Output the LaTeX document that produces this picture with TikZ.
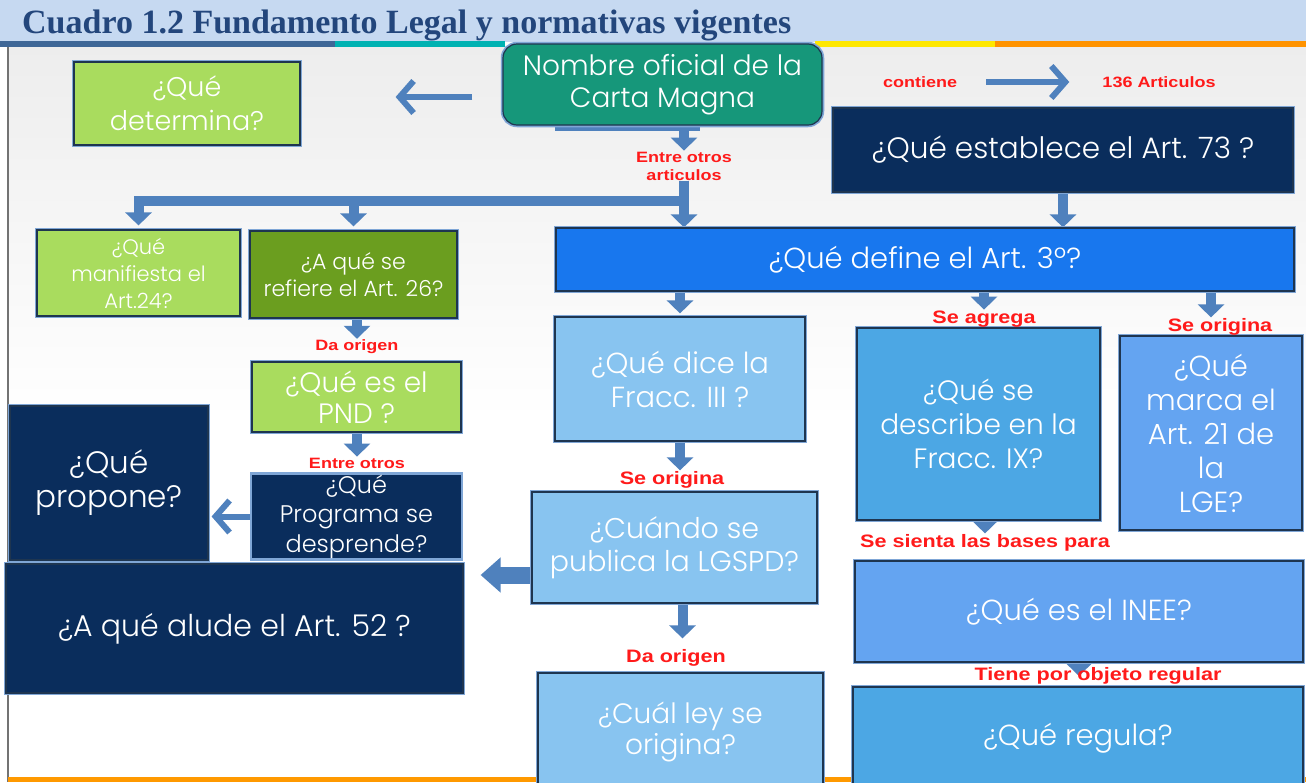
\documentclass[tikz,border=0pt]{standalone}
\usepackage{fontspec}
\usetikzlibrary{arrows.meta,calc}
\newfontfamily\boxfont{Poppins}[UprightFont={* Light}]
\newfontfamily\labfont{Liberation Sans}[FakeStretch=1.2]
\newfontfamily\titlefont{Liberation Serif}
\definecolor{lgreen}{HTML}{A9DC5E}
\definecolor{olive}{HTML}{6B9E1F}
\definecolor{teal2}{HTML}{16977A}
\definecolor{navy}{HTML}{0A2D5C}
\definecolor{brblue}{HTML}{1877EE}
\definecolor{lblue}{HTML}{88C4F0}
\definecolor{mblue}{HTML}{4CA7E4}
\definecolor{pblue}{HTML}{64A4F1}
\definecolor{arrowblue}{HTML}{4F81BD}
\definecolor{hdr}{HTML}{C6D9F1}
\definecolor{ttl}{HTML}{23467C}
\definecolor{boxline}{HTML}{1E3550}
\definecolor{frame}{HTML}{7FA6D6}
\definecolor{lab}{HTML}{FF1A1A}
\pgfdeclarelayer{bg}
\pgfdeclarelayer{arr}
\pgfsetlayers{bg,arr,main}
\newcommand{\fs}[2]{\boxfont\fontsize{#1}{#2}\selectfont}
\begin{document}
\begin{tikzpicture}[x=1pt,y={(0pt,-1pt)},
  box/.style={draw=boxline, line width=1.2pt, text=white, align=center, inner sep=0pt,
    font=\fs{28}{34}, preaction={draw=frame, line width=4.5pt}},
  lbl/.style={text=lab, font=\labfont\bfseries\fontsize{18}{19}\selectfont, inner sep=1pt, align=center},
  slbl/.style={lbl, font=\labfont\bfseries\fontsize{15}{18}\selectfont},
  barrow/.style={draw=arrowblue, line width=10pt, -{Triangle[width=26pt,length=13pt]}},
  bigarrow/.style={draw=arrowblue, line width=17pt, -{Triangle[width=34pt,length=20pt]}},
  chev/.style={draw=arrowblue, line width=6pt, -{Straight Barb[length=14pt,width=32pt]}}]
\path[use as bounding box] (0,0) rectangle (1306,782);
\begin{pgfonlayer}{bg}
  \fill[white] (0,0) rectangle (1306,782);
  \shade[top color=black!7, bottom color=white] (8,47) rectangle (1306,420);
  \fill[hdr] (0,0) rectangle (1306,42);
  \fill[arrowblue!80!black] (0,41) rectangle (335,47);
  \fill[teal!60!cyan] (335,41) rectangle (505,47);
  \fill[yellow!90!orange] (815,41) rectangle (995,47);
  \fill[orange!85!yellow] (995,41) rectangle (1306,47);
  \draw[black!55, line width=1.5pt] (8,47) -- (8,782);
  \fill[orange!80!yellow] (8,777) rectangle (1306,782);
  \fill[arrowblue] (555,118) rectangle (700,131);
\end{pgfonlayer}

\node[anchor=base west, text=ttl, font=\titlefont\bfseries\fontsize{34}{38}\selectfont, inner sep=0pt] (title) at (22,33) {Cuadro 1.2 Fundamento Legal y normativas vigentes};

\node[box, fill=lgreen, minimum width=226pt, minimum height=83pt, font=\fs{27}{34}] (det) at (187,103.5) {¿Qué\\determina?};
\node[box, fill=teal2, preaction={draw=none}, rounded corners=14pt, minimum width=319pt, minimum height=81pt, font=\fs{28}{32}] (nom) at (662.5,84.5) {Nombre oficial de la\\Carta Magna};
\node[box, fill=navy, minimum width=460pt, minimum height=84pt, font=\fs{29.5}{34}] (a73) at (1063,150) {¿Qué establece el Art. 73 ?};
\node[box, fill=lgreen, minimum width=203pt, minimum height=86pt, font=\fs{21}{27}] (a24) at (138.5,273) {¿Qué\\manifiesta el\\Art.24?};
\node[box, fill=olive, preaction={draw=none}, minimum width=207pt, minimum height=87pt, font=\fs{22}{27}] (a26) at (353.5,274.5) {¿A qué se\\refiere el Art. 26?};
\node[box, fill=lgreen, minimum width=209pt, minimum height=70pt, font=\fs{28}{31}] (pnd) at (356.5,397) {¿Qué es el\\PND ?};
\node[box, fill=navy, preaction={draw=none}, draw=none, minimum width=209pt, minimum height=77pt, font=\fs{24}{29.5}] (prog) at (356.5,516.5) {¿Qué\\Programa se\\desprende?};
\node[box, fill=navy, preaction={draw=none}, minimum width=198pt, minimum height=154pt, font=\fs{31}{34}] (prop) at (109,483) {¿Qué\\propone?};
\node[box, fill=navy, preaction={draw=none}, minimum width=457pt, minimum height=129pt, font=\fs{30}{34}] (a52) at (234.5,628.5) {¿A qué alude el Art. 52 ?};
\node[box, fill=brblue, preaction={draw=none}, minimum width=738pt, minimum height=63pt, font=\fs{29}{34}] (a3) at (925,259.5) {¿Qué define el Art. 3º?};
\node[box, fill=lblue, minimum width=250pt, minimum height=124pt, font=\fs{29}{34}] (f3) at (680,379) {¿Qué dice la\\Fracc. III ?};
\node[box, fill=mblue, minimum width=243pt, minimum height=192pt] (f9) at (978.5,424) {¿Qué se\\describe en la\\Fracc. IX?};
\node[box, fill=pblue, minimum width=182pt, minimum height=194pt, font=\fs{29}{34}] (a21) at (1211,433) {¿Qué\\marca el\\Art. 21 de\\la\\LGE?};
\node[box, fill=lblue, minimum width=285pt, minimum height=111pt, font=\fs{28.5}{33}] (cuan) at (674.5,547.5) {¿Cuándo se\\publica la LGSPD?};
\node[box, fill=lblue, minimum width=285pt, minimum height=117pt, font=\fs{28}{31}] (cual) at (680.5,731.5) {¿Cuál ley se\\origina?};
\node[box, fill=pblue, minimum width=448pt, minimum height=101pt, font=\fs{29}{34}] (inee) at (1079,611.5) {¿Qué es el INEE?};
\node[box, fill=mblue, minimum width=450pt, minimum height=103pt, font=\fs{29}{34}] (reg) at (1078,738.5) {¿Qué regula?};

\node[slbl] (cont) at (920,82) {contiene};
\node[slbl] (art136) at (1159,82) {136 Articulos};
\node[slbl] (eo1) at (684,166) {Entre otros\\articulos};
\node[slbl] (da1) at (357,347) {Da origen};
\node[slbl] (eo2) at (357,463) {Entre otros};
\node[lbl] (sagr) at (984,319) {Se agrega};
\node[lbl] (sor1) at (1220,327) {Se origina};
\node[lbl] (sor2) at (672,480) {Se origina};
\node[lbl] (sienta) at (985,543) {Se sienta las bases para};
\node[lbl] (da2) at (676,658) {Da origen};
\node[lbl] (tiene) at (1098,676) {Tiene por objeto regular};

\coordinate (br) at ($(eo1.south)+(0,20)$);

\begin{pgfonlayer}{arr}
  \draw[chev] ([xshift=-30pt,yshift=-12.5pt]nom.west) -- ([xshift=95pt,yshift=6.5pt]det.east);
  \draw[chev, shorten <=28pt, shorten >=32pt] (cont.east) -- (art136.west);
  \draw[barrow] (nom.south -| eo1) -- (eo1.north);
  \draw[barrow] (eo1.south) -- (a3.north -| eo1.south);
  \draw[barrow, shorten >=4pt] (br) -| (a24.north);
  \draw[barrow, shorten >=4pt] (br) -| (a26.north);
  \draw[barrow] (a73.south) -- (a3.north -| a73.south);
  \draw[barrow] (a26.south -| da1) -- (da1.north);
  \draw[barrow] (pnd.south -| eo2) -- (eo2.north);
  \draw[chev, shorten >=3pt] (prog.west) -- (prog.west -| prop.east);
  \draw[barrow, shorten >=3pt] (a3.south -| f3) -- (f3.north);
  \draw[barrow] (a3.south -| sagr) -- (sagr.north);
  \draw[barrow] (a3.south -| a21) -- (sor1.north -| a21);
  \draw[barrow] (f3.south) -- (sor2.north -| f3.south);
  \draw[bigarrow, shorten >=17pt] ([yshift=-27.5pt]cuan.west) -- ([yshift=-27.5pt]cuan.west -| a52.east);
  \draw[barrow, shorten >=10pt] ([xshift=8pt]cuan.south) -- ([xshift=8pt]cuan.south |- da2.north);
  \draw[barrow] (f9.south -| sienta) -- (sienta.north);
  \draw[barrow] (inee.south) -- (tiene.center -| inee.south);
\end{pgfonlayer}
\end{tikzpicture}
\end{document}
